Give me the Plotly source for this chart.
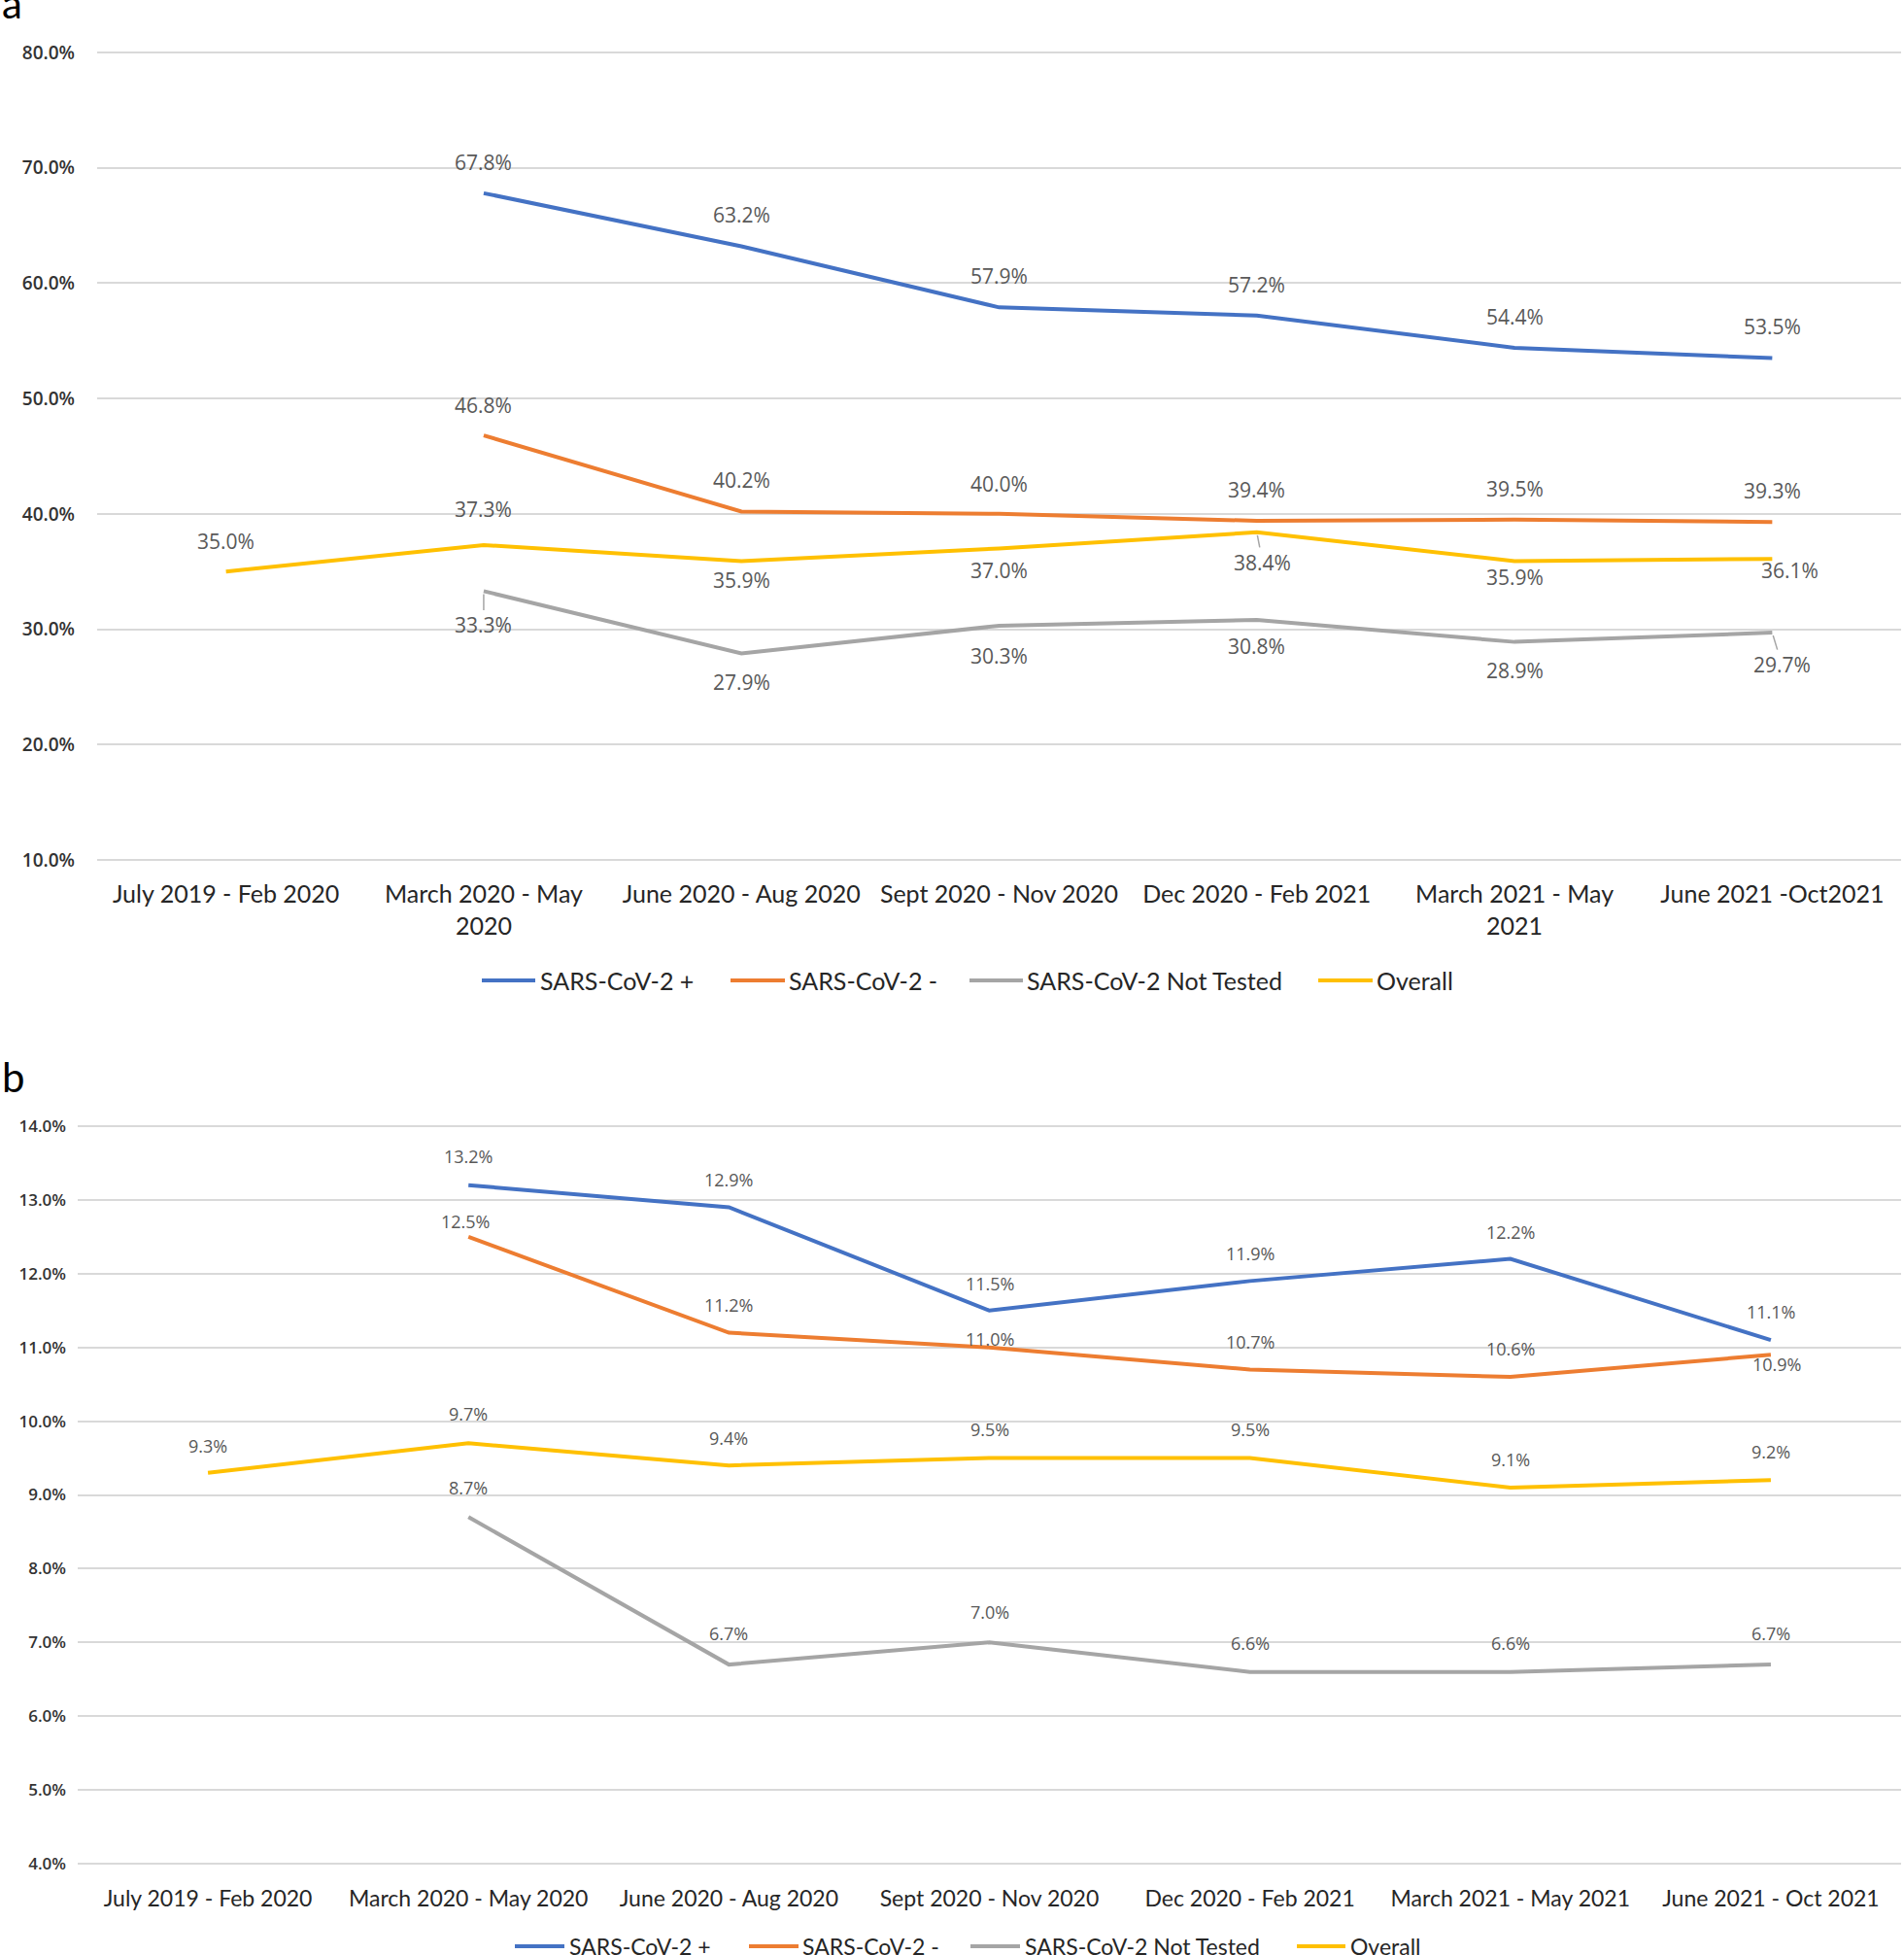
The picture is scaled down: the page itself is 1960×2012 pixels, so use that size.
import plotly.graph_objects as go

# panel a
periods_a = ["July 2019 - Feb 2020", "March 2020 - May<br>2020", "June 2020 - Aug 2020",
             "Sept 2020 - Nov 2020", "Dec 2020 - Feb 2021", "March 2021 - May<br>2021",
             "June 2021 -Oct2021"]
pos_a = [None, 67.8, 63.2, 57.9, 57.2, 54.4, 53.5]
neg_a = [None, 46.8, 40.2, 40.0, 39.4, 39.5, 39.3]
nt_a = [None, 33.3, 27.9, 30.3, 30.8, 28.9, 29.7]
ov_a = [35.0, 37.3, 35.9, 37.0, 38.4, 35.9, 36.1]

# panel b
periods_b = ["July 2019 - Feb 2020", "March 2020 - May 2020", "June 2020 - Aug 2020",
             "Sept 2020 - Nov 2020", "Dec 2020 - Feb 2021", "March 2021 - May 2021",
             "June 2021 - Oct 2021"]
pos_b = [None, 13.2, 12.9, 11.5, 11.9, 12.2, 11.1]
neg_b = [None, 12.5, 11.2, 11.0, 10.7, 10.6, 10.9]
nt_b = [None, 8.7, 6.7, 7.0, 6.6, 6.6, 6.7]
ov_b = [9.3, 9.7, 9.4, 9.5, 9.5, 9.1, 9.2]

names = ["SARS-CoV-2 +", "SARS-CoV-2 -", "SARS-CoV-2 Not Tested", "Overall"]
colors = ["#4472C4", "#ED7D31", "#A5A5A5", "#FFC000"]

# label offsets in px (dy > 0 = above point), leader = draw a short line
lab_a = [
    dict(dy=[0, 32, 32, 32, 32, 32, 33], dx=[0] * 7, leader=[]),
    dict(dy=[0, 31, 32, 31, 32, 32, 32], dx=[0] * 7, leader=[]),
    dict(dy=[0, -35, -30, -31, -27, -29, -33], dx=[0, 0, 0, 0, 0, 0, 10], leader=[1, 6]),
    dict(dy=[31, 37, -19, -23, -31, -16, -12], dx=[0, 0, 0, 0, 6, 0, 18], leader=[4]),
]
lab_b = [
    dict(dy=[0, 30, 28, 28, 28, 28, 29], dx=[0] * 7, leader=[]),
    dict(dy=[0, 16, 29, 9, 28, 29, -10], dx=[0, -3, 0, 0, 0, 0, 6], leader=[]),
    dict(dy=[0, 30, 32, 31, 30, 30, 32], dx=[0] * 7, leader=[]),
    dict(dy=[28, 30, 28, 30, 30, 29, 29], dx=[0] * 7, leader=[]),
]

# legend layout (pixel positions: sample start, sample end, text start), row y
leg_a = dict(y=1009, size=25, items=[(496, 551, 554), (752, 808, 810),
                                      (998, 1053, 1055), (1357, 1413, 1415)])
leg_b = dict(y=2003, size=23, items=[(530, 581, 584), (771, 822, 824),
                                      (999, 1050, 1053), (1335, 1385, 1388)])

W, H = 1960, 2012
fig = go.Figure()
annos = []
shapes = []


def add_panel(periods, series, labels, xa, ya, fsize, leg):
    for name, col, vals, lab, item in zip(names, colors, series, labels, leg["items"]):
        fig.add_trace(go.Scatter(
            x=periods, y=vals, name=name, mode="lines", showlegend=False,
            line=dict(color=col, width=4), xaxis=xa, yaxis=ya, hoverinfo="skip"))
        for i, v in enumerate(vals):
            if v is None:
                continue
            a = dict(x=periods[i], y=v, xref=xa, yref=ya, text=f"{v:.1f}%",
                     font=dict(family="Open Sans", size=fsize, color="#595959"))
            if i in lab["leader"]:
                a.update(showarrow=True, arrowhead=0, arrowwidth=1.5,
                         arrowcolor="#A6A6A6", ax=lab["dx"][i], ay=-lab["dy"][i],
                         standoff=3)
            else:
                a.update(showarrow=False, xshift=lab["dx"][i], yshift=lab["dy"][i])
            annos.append(a)
        # legend entry
        ly = 1 - leg["y"] / H
        shapes.append(dict(type="line", xref="paper", yref="paper",
                           x0=item[0] / W, x1=item[1] / W, y0=ly, y1=ly,
                           line=dict(color=col, width=4)))
        annos.append(dict(x=item[2] / W, y=ly, xref="paper", yref="paper", text=name,
                          showarrow=False, xanchor="left", yanchor="middle",
                          font=dict(family="Lato", size=leg["size"], color="#262626")))


add_panel(periods_a, [pos_a, neg_a, nt_a, ov_a], lab_a, "x", "y", 21, leg_a)
add_panel(periods_b, [pos_b, neg_b, nt_b, ov_b], lab_b, "x2", "y2", 18, leg_b)

annos.append(dict(x=0.0, y=1 - 3 / H, xref="paper", yref="paper", text="a",
                  showarrow=False, xanchor="left", yanchor="middle",
                  font=dict(family="Lato", size=42, color="#000")))
annos.append(dict(x=0.0, y=1 - 1108 / H, xref="paper", yref="paper", text="b",
                  showarrow=False, xanchor="left", yanchor="middle",
                  font=dict(family="Lato", size=42, color="#000")))

yax = dict(showgrid=True, gridcolor="#D9D9D9", gridwidth=2, zeroline=False,
           showline=False, ticks="", ticksuffix="%", tickformat=".1f")
xax = dict(type="category", range=[-0.5, 6.5], showgrid=False, zeroline=False,
           showline=False, ticks="")

fig.update_layout(
    width=W, height=H,
    margin=dict(l=0, r=0, t=0, b=0, autoexpand=False),
    plot_bgcolor="white", paper_bgcolor="white",
    xaxis=dict(xax, domain=[100 / W, 1957 / W], anchor="y",
               tickfont=dict(family="Lato", size=25, color="#262626"),
               ticklabelstandoff=16),
    # range padded slightly so the 10% / 80% gridlines are drawn
    yaxis=dict(yax, domain=[1 - 887 / H, 1 - 52 / H], anchor="x",
               range=[9.83, 80.17], dtick=10, tick0=0,
               tickfont=dict(family="Open Sans", size=19, color="#333333", weight=600),
               ticklabelstandoff=22),
    xaxis2=dict(xax, domain=[80 / W, 1957 / W], anchor="y2",
                tickfont=dict(family="Lato", size=23, color="#262626"),
                ticklabelstandoff=18),
    yaxis2=dict(yax, domain=[1 - 1920 / H, 1 - 1157 / H], anchor="x2",
                range=[3.974, 14.026], dtick=1, tick0=0,
                tickfont=dict(family="Open Sans", size=17, color="#333333", weight=600),
                ticklabelstandoff=11),
    shapes=shapes,
    annotations=annos,
)

fig.write_html("out.html", config={"displayModeBar": False},
               post_script="document.body.style.margin='0';")
